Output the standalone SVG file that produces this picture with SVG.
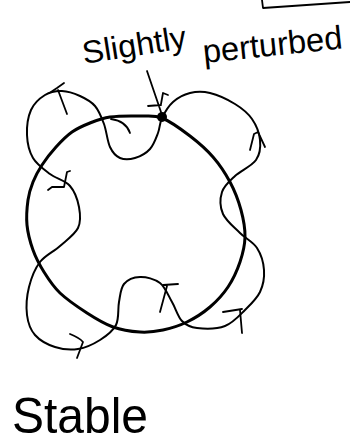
<svg xmlns="http://www.w3.org/2000/svg" width="350" height="446" viewBox="0 0 350 446">
<style>
.bg{fill:#fff}
.circle{fill:none;stroke:#000;stroke-width:3;stroke-linecap:round;stroke-linejoin:round}
.wavy{fill:none;stroke:#000;stroke-width:2;stroke-linecap:round;stroke-linejoin:round}
.tick{fill:none;stroke:#000;stroke-width:1.8;stroke-linecap:round;stroke-linejoin:round}
.hand{font-family:"Liberation Sans","DejaVu Sans",sans-serif;fill:#000}
</style>
<rect class="bg" x="0" y="0" width="350" height="446"/>
<g id="frame">
<path class="tick" d="M262,0 L263,8 L350,2"/>
</g>
<g id="connectors">
<path id="stable-orbit" class="circle" d="M162,118 C170.3,121.3 181.5,129.5 190,136 C198.5,142.5 206.3,149.3 213,157 C219.7,164.7 225.3,173.2 230,182 C234.7,190.8 238.5,200.8 241,210 C243.5,219.2 245.2,228.3 245,237 C244.8,245.7 242.8,253.7 240,262 C237.2,270.3 233,279.5 228,287 C223,294.5 216.8,301.2 210,307 C203.2,312.8 194.8,318.2 187,322 C179.2,325.8 170.8,328.3 163,330 C155.2,331.7 148.3,332.5 140,332 C131.7,331.5 121.8,330.2 113,327 C104.2,323.8 95.8,318.7 87,313 C78.2,307.3 67.2,299.8 60,293 C52.8,286.2 48.5,279.2 44,272 C39.5,264.8 35.8,257.8 33,250 C30.2,242.2 27.8,233.3 27,225 C26.2,216.7 27,207.2 28,200 C29,192.8 30.7,187.8 33,182 C35.3,176.2 38.2,170.8 42,165 C45.8,159.2 51,152.5 56,147 C61,141.5 66.3,136 72,132 C77.7,128 83.7,125.5 90,123 C96.3,120.5 101.7,118.2 110,117 C118.3,115.8 131.3,115.8 140,116 C148.7,116.2 153.7,114.7 162,118 Z"/>
<path id="perturbed-orbit" class="wavy" d="M162,118 C164.5,112.8 168.3,106.2 173,102 C177.7,97.8 183.8,94.5 190,93 C196.2,91.5 202.5,91.2 210,93 C217.5,94.8 228,99.7 235,104 C242,108.3 247.8,113 252,119 C256.2,125 259.3,133.2 260,140 C260.7,146.8 260.2,154 256,160 C251.8,166 240.7,170.7 235,176 C229.3,181.3 224,185.7 222,192 C220,198.3 220,207.2 223,214 C226,220.8 234.3,227.3 240,233 C245.7,238.7 253,241.8 257,248 C261,254.2 263.5,262.7 264,270 C264.5,277.3 263.2,285.3 260,292 C256.8,298.7 250.8,304.3 245,310 C239.2,315.7 233,323 225,326 C217,329 204.2,328.8 197,328 C189.8,327.2 186.2,325.3 182,321 C177.8,316.7 175.7,308.3 172,302 C168.3,295.7 165.3,287.2 160,283 C154.7,278.8 146,276.8 140,277 C134,277.2 127.5,279.8 124,284 C120.5,288.2 120.3,295.2 119,302 C117.7,308.8 119.2,318.7 116,325 C112.8,331.3 106.3,336 100,340 C93.7,344 85.5,347.8 78,349 C70.5,350.2 62.2,349.3 55,347 C47.8,344.7 39.7,340.3 35,335 C30.3,329.7 28,323 27,315 C26,307 26.8,295.8 29,287 C31.2,278.2 34.8,268.8 40,262 C45.2,255.2 53.7,251.7 60,246 C66.3,240.3 74.8,234.5 78,228 C81.2,221.5 80.3,214 79,207 C77.7,200 74.8,191.5 70,186 C65.2,180.5 56.2,178.7 50,174 C43.8,169.3 36.8,164.5 33,158 C29.2,151.5 27.3,143 27,135 C26.7,127 28,116.7 31,110 C34,103.3 39.8,98.2 45,95 C50.2,91.8 56.2,90.8 62,91 C67.8,91.2 74.5,93.5 80,96 C85.5,98.5 91,101.3 95,106 C99,110.7 101.5,117.2 104,124 C106.5,130.8 107.3,141.3 110,147 C112.7,152.7 115.8,156.2 120,158 C124.2,159.8 130,159.5 135,158 C140,156.5 146.2,153.2 150,149 C153.8,144.8 156,138.2 158,133 C160,127.8 159.5,123.2 162,118 Z"/>
<path class="tick" d="M51,92 L57,88 L64,83 M58,90 L67,114"/>
<path class="tick" d="M111,119 Q126,121 130,133"/>
<path class="tick" d="M147,71 L161,112 M148,106 L161,105 M161,104 L163,93 L168,95"/>
<path class="tick" d="M250,150 L254,134 L258,132 L265,147"/>
<path class="tick" d="M48,190 L52,187 L64,187 L67,172 L70,171"/>
<path class="tick" d="M163,285 L178,284 M167,286 L160,312"/>
<path class="tick" d="M223,312 L242,309 M240,310 L242,333"/>
<path class="tick" d="M70,334 Q80,338 83,342 L77,358"/>
</g>
<g id="perturbed-point">
<circle cx="162" cy="117" r="5" fill="#000"/>
</g>
<g id="label-slightly">
<text class="hand" x="84" y="64" font-size="32" textLength="105" lengthAdjust="spacingAndGlyphs" transform="rotate(-9 84 64)">Slightly</text>
</g>
<g id="label-perturbed">
<text class="hand" x="204" y="63" font-size="33" textLength="140" lengthAdjust="spacingAndGlyphs" transform="rotate(-6 204 63)">perturbed</text>
</g>
<g id="label-stable">
<text class="hand" x="12" y="433" font-size="50" textLength="136" lengthAdjust="spacingAndGlyphs">Stable</text>
</g>
</svg>
